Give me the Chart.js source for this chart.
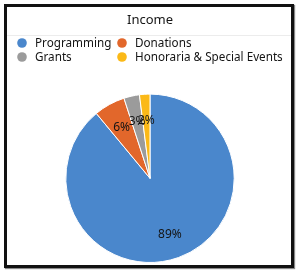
<!DOCTYPE html>
<html>
<head>
<meta charset="utf-8">
<script src="https://cdn.jsdelivr.net/npm/chart.js@4/dist/chart.umd.min.js"></script>
<style>
  html, body { margin: 0; padding: 0; background: #fff; }
  #wrap { position: relative; width: 300px; height: 273px; }
  #frame { position: absolute; left: 4px; top: 4px; width: 284px; height: 258px;
           border: 3px solid #111; box-shadow: 1px 1px 1px #888; pointer-events: none; }
  canvas { position: absolute; left: 0; top: 0; }
</style>
</head>
<body>
<div id="wrap">
  <canvas id="c" width="300" height="273"></canvas>
  <div id="frame"></div>
</div>
<script>
const categories = ["Programming", "Donations", "Grants", "Honoraria & Special Events"];
const values = [89, 6, 3, 2];
const colors = ["#4a87cc", "#e2672b", "#9b9b9b", "#fbb917"];
const chartTitle = "Income";

const legendPlugin = {
  id: 'gridLegend',
  afterDraw(chart) {
    const ctx = chart.ctx;
    ctx.save();
    ctx.strokeStyle = '#ececec';
    ctx.lineWidth = 1;
    ctx.beginPath();
    ctx.moveTo(7, 35.5);
    ctx.lineTo(291, 35.5);
    ctx.stroke();
    const colX = [22, 122];
    const rowY = [43, 57];
    ctx.font = '11.7px "Noto Sans", sans-serif';
    ctx.textBaseline = 'middle';
    ctx.textAlign = 'left';
    categories.forEach((label, i) => {
      const cx = colX[i % 2];
      const cy = rowY[Math.floor(i / 2)];
      ctx.fillStyle = colors[i];
      ctx.beginPath();
      ctx.arc(cx, cy, 4.8, 0, Math.PI * 2);
      ctx.fill();
      ctx.fillStyle = '#141414';
      ctx.fillText(label, cx + 13, cy + 0.5);
    });
    ctx.restore();
  }
};

const pctPlugin = {
  id: 'pctLabels',
  afterDatasetsDraw(chart) {
    const ctx = chart.ctx;
    const meta = chart.getDatasetMeta(0);
    const data = chart.data.datasets[0].data;
    const total = data.reduce((a, b) => a + b, 0);
    ctx.save();
    ctx.font = '12px "Noto Sans", sans-serif';
    ctx.fillStyle = '#141414';
    ctx.textAlign = 'center';
    ctx.textBaseline = 'middle';
    meta.data.forEach((arc, i) => {
      const p = arc.getProps(['x', 'y', 'startAngle', 'endAngle', 'outerRadius'], true);
      const mid = (p.startAngle + p.endAngle) / 2;
      const r = p.outerRadius * 0.7;
      const x = p.x + Math.cos(mid) * r;
      const y = p.y + Math.sin(mid) * r;
      ctx.fillText(Math.round(data[i] / total * 100) + '%', x, y + 1);
    });
    ctx.restore();
  }
};

new Chart(document.getElementById('c'), {
  type: 'pie',
  data: {
    labels: categories,
    datasets: [{
      data: values,
      backgroundColor: colors,
      borderColor: '#ffffff',
      borderWidth: 1
    }]
  },
  options: {
    responsive: false,
    animation: false,
    layout: { padding: { top: 12, bottom: 10, left: 0, right: 0 } },
    plugins: {
      legend: { display: false },
      tooltip: { enabled: false },
      title: {
        display: true,
        text: chartTitle,
        color: '#141414',
        font: { family: '"Noto Sans", sans-serif', size: 13, weight: 'normal' },
        padding: { top: 0, bottom: 66 }
      }
    }
  },
  plugins: [legendPlugin, pctPlugin]
});
</script>
</body>
</html>
